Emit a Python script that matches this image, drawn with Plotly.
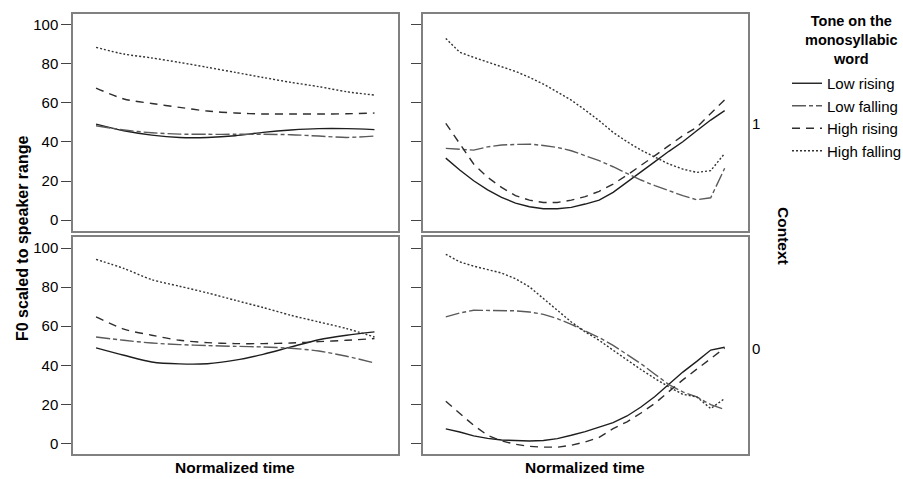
import plotly.graph_objects as go

# ---------------- data ----------------
TONES = ["Low rising", "Low falling", "High rising", "High falling"]
CONTEXTS = ["1", "0"]

T11 = [0.0, 0.1, 0.2, 0.3, 0.4, 0.5, 0.6, 0.7, 0.8, 0.9, 1.0]
T21 = [0.0, 0.05, 0.1, 0.15, 0.2, 0.25, 0.3, 0.35, 0.4, 0.45, 0.5,
       0.55, 0.6, 0.65, 0.7, 0.75, 0.8, 0.85, 0.9, 0.95, 1.0]

# Context 1, left column
C1L_LOW_RISING = [49.1, 45.7, 43.5, 42.3, 42.3, 43.2, 44.9, 46.1, 46.8, 46.8, 46.3]
C1L_LOW_FALLING = [48.3, 46.1, 44.7, 44.0, 43.9, 43.9, 43.9, 43.7, 43.0, 42.3, 43.0]
C1L_HIGH_RISING = [67.6, 62.0, 59.7, 57.7, 55.8, 54.8, 54.3, 54.3, 54.3, 54.4, 54.8]
C1L_HIGH_FALLING = [88.4, 85.0, 83.0, 80.7, 78.2, 75.6, 73.0, 70.5, 68.3, 65.7, 64.0]

# Context 1, right column
C1R_LOW_RISING = [31.7, 25.6, 20.1, 15.5, 11.6, 8.7, 6.8, 5.8, 5.8, 6.5, 8.2,
                  10.2, 14.2, 19.3, 24.4, 29.9, 35.2, 40.1, 45.7, 51.2, 56.0]
C1R_LOW_FALLING = [36.7, 36.3, 35.8, 37.5, 38.4, 38.7, 38.9, 38.2, 37.2, 35.5, 33.0,
                   30.4, 27.3, 23.9, 20.5, 17.6, 15.0, 12.5, 10.4, 11.4, 26.5]
C1R_HIGH_RISING = [49.5, 38.9, 28.7, 21.9, 16.7, 12.5, 10.2, 9.0, 9.0, 10.2, 12.0,
                   14.7, 18.4, 23.0, 27.8, 33.0, 38.1, 43.2, 47.5, 54.3, 61.6]
C1R_HIGH_FALLING = [93.0, 85.9, 83.3, 80.7, 78.5, 76.1, 73.1, 69.6, 65.7, 61.4, 56.3,
                    50.9, 44.9, 40.1, 35.8, 32.1, 28.7, 26.1, 24.4, 25.3, 34.1]

# Context 0, left column
C0L_LOW_RISING = [48.9, 45.1, 41.7, 40.7, 40.8, 42.6, 45.6, 49.4, 53.1, 55.4, 57.1]
C0L_LOW_FALLING = [54.5, 52.8, 51.4, 50.6, 50.1, 49.7, 49.4, 48.7, 47.3, 44.6, 41.2]
C0L_HIGH_RISING = [64.8, 58.5, 55.4, 52.8, 51.6, 51.1, 51.1, 51.4, 52.1, 52.8, 53.7]
C0L_HIGH_FALLING = [94.3, 89.6, 83.9, 80.5, 77.1, 73.3, 69.6, 65.6, 62.2, 58.8, 54.5]

# Context 0, right column
C0R_LOW_RISING = [7.4, 5.8, 3.8, 2.5, 1.7, 1.3, 1.2, 1.4, 2.4, 4.1, 6.0,
                  8.3, 10.6, 14.0, 18.6, 24.0, 30.5, 36.5, 42.0, 47.8, 49.2]
C0R_LOW_FALLING = [64.8, 66.8, 68.2, 68.2, 68.2, 67.9, 67.3, 66.1, 63.9, 61.0, 57.6,
                   54.2, 50.2, 45.6, 40.8, 35.4, 30.1, 26.3, 23.8, 19.8, 17.3]
C0R_HIGH_RISING = [21.5, 15.2, 9.2, 4.1, 1.2, -0.5, -1.6, -2.0, -2.0, -1.0, 0.7,
                   3.0, 7.5, 11.0, 15.5, 20.5, 26.5, 32.5, 38.0, 43.5, 48.8]
C0R_HIGH_FALLING = [96.9, 93.0, 90.8, 89.2, 87.3, 84.4, 80.2, 74.2, 68.2, 62.2, 57.1,
                    52.8, 47.7, 42.6, 37.8, 33.2, 28.9, 25.1, 23.8, 17.8, 22.9]

Y_TICKS = [0, 20, 40, 60, 80, 100]

# ---------------- styling ----------------
FONT = "Liberation Sans, Arial, sans-serif"
STYLES = {
    "Low rising": dict(color="#1e1e1e", dash="solid"),
    "Low falling": dict(color="#5a5a5a", dash="14px,3px,4px,3px"),
    "High rising": dict(color="#2e2e2e", dash="8px,6px"),
    "High falling": dict(color="#333333", dash="2px,2px"),
}

W, H = 903, 479
def px_x(p):
    return p / W
def px_y(p):
    return 1 - p / H

X_LEFT = [px_x(73), px_x(397.5)]
X_RIGHT = [px_x(422.7), px_x(747.7)]
Y_TOP = [px_y(231), px_y(14)]
Y_BOT = [px_y(454), px_y(237.3)]

panels = [
    ("", X_LEFT, Y_TOP, T11, [C1L_LOW_RISING, C1L_LOW_FALLING, C1L_HIGH_RISING, C1L_HIGH_FALLING], True, [-5.6, 105.5]),
    ("2", X_RIGHT, Y_TOP, T21, [C1R_LOW_RISING, C1R_LOW_FALLING, C1R_HIGH_RISING, C1R_HIGH_FALLING], False, [-5.6, 105.5]),
    ("3", X_LEFT, Y_BOT, T11, [C0L_LOW_RISING, C0L_LOW_FALLING, C0L_HIGH_RISING, C0L_HIGH_FALLING], True, [-5.5, 105.6]),
    ("4", X_RIGHT, Y_BOT, T21, [C0R_LOW_RISING, C0R_LOW_FALLING, C0R_HIGH_RISING, C0R_HIGH_FALLING], False, [-5.5, 105.6]),
]

fig = go.Figure()
layout = {}
for i, (suf, xd, yd, t, series, smooth, yr) in enumerate(panels):
    for tone, vals in zip(TONES, series):
        st = STYLES[tone]
        fig.add_trace(go.Scatter(
            x=t, y=vals, mode="lines", name=tone,
            xaxis="x" + suf, yaxis="y" + suf,
            line=dict(color=st["color"], dash=st["dash"], width=1.4,
                      shape="spline" if smooth else "linear", smoothing=0.8),
            showlegend=(i == 0), legendgroup=tone,
        ))
    layout["xaxis" + suf] = dict(
        domain=xd, range=[-0.0828, 1.0827], anchor="y" + suf,
        showticklabels=False, ticks="", showgrid=False, zeroline=False,
        showline=True, mirror=True, linecolor="#808080", linewidth=1.5,
    )
    layout["yaxis" + suf] = dict(
        domain=yd, range=yr, anchor="x" + suf,
        tickvals=Y_TICKS, ticks="outside", ticklen=10, tickwidth=1, tickcolor="#444444",
        showticklabels=(suf in ("", "3")),
        tickfont=dict(family=FONT, size=15, color="#000000"),
        showgrid=False, zeroline=False,
        showline=True, mirror=True, linecolor="#808080", linewidth=1.5,
    )

ann = []
ann.append(dict(text="<b>F0 scaled to speaker range</b>", x=px_x(22), y=px_y(238),
                xref="paper", yref="paper", textangle=-90, showarrow=False,
                xanchor="center", yanchor="middle",
                font=dict(family=FONT, size=16, color="#000000")))
for xc in [(73 + 397.5) / 2, (422.7 + 747.7) / 2]:
    ann.append(dict(text="<b>Normalized time</b>", x=px_x(xc), y=px_y(467),
                    xref="paper", yref="paper", showarrow=False,
                    xanchor="center", yanchor="middle",
                    font=dict(family=FONT, size=15.5, color="#000000")))
ann.append(dict(text="<b>Context</b>", x=px_x(784), y=px_y(236),
                xref="paper", yref="paper", textangle=90, showarrow=False,
                xanchor="center", yanchor="middle",
                font=dict(family=FONT, size=15.5, color="#000000")))
for ctx, yc in zip(CONTEXTS, [124, 348]):
    ann.append(dict(text=ctx, x=px_x(756), y=px_y(yc),
                    xref="paper", yref="paper", showarrow=False,
                    xanchor="center", yanchor="middle",
                    font=dict(family=FONT, size=15, color="#000000")))
ann.append(dict(text="<b>Tone on the<br>monosyllabic<br>word</b>", x=px_x(851), y=px_y(40),
                xref="paper", yref="paper", showarrow=False,
                xanchor="center", yanchor="middle", align="center",
                font=dict(family=FONT, size=14.5, color="#000000")))

fig.update_layout(
    width=W, height=H,
    margin=dict(l=0, r=0, t=0, b=0, autoexpand=False),
    paper_bgcolor="white", plot_bgcolor="white",
    annotations=ann,
    legend=dict(x=px_x(787), y=px_y(67), xanchor="left", yanchor="top",
                font=dict(family=FONT, size=15, color="#000000"),
                bgcolor="rgba(0,0,0,0)", borderwidth=0, tracegroupgap=0,
                itemwidth=30),
    **layout,
)

fig.write_html("out.html")
